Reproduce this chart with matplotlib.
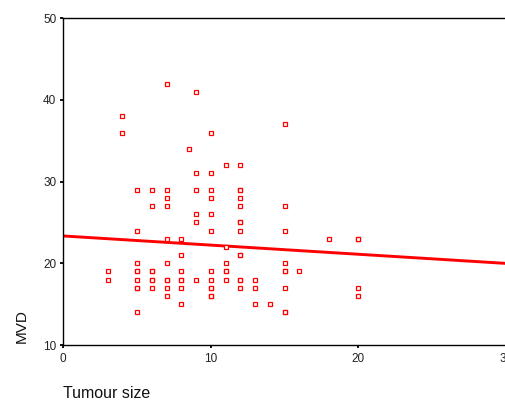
import matplotlib
matplotlib.use("Agg")
import matplotlib.pyplot as plt
import numpy as np

# Data (duplicates where markers appear overplotted)
tumour_size = [
    7, 9, 4, 4, 10, 15, 8.5, 11, 12, 9, 10,
    5, 6, 7, 9, 10, 12, 12,
    7, 10, 12,
    6, 7, 12, 15,
    9, 10,
    9, 12, 12,
    5, 10, 12, 15,
    7, 8, 18, 20, 20,
    11,
    8, 12, 12,
    5, 7, 11, 15,
    3, 5, 5, 6, 6, 8, 10, 11, 11, 15, 15, 16,
    3, 5, 6, 6, 7, 7, 8, 8, 9, 10, 11, 12, 12, 13,
    5, 5, 6, 7, 8, 10, 10, 12, 13, 15, 20,
    7, 10, 10, 20,
    8, 13, 14,
    5, 15, 15,
]
mvd = [
    42, 41, 38, 36, 36, 37, 34, 32, 32, 31, 31,
    29, 29, 29, 29, 29, 29, 29,
    28, 28, 28,
    27, 27, 27, 27,
    26, 26,
    25, 25, 25,
    24, 24, 24, 24,
    23, 23, 23, 23, 23,
    22,
    21, 21, 21,
    20, 20, 20, 20,
    19, 19, 19, 19, 19, 19, 19, 19, 19, 19, 19, 19,
    18, 18, 18, 18, 18, 18, 18, 18, 18, 18, 18, 18, 18, 18,
    17, 17, 17, 17, 17, 17, 17, 17, 17, 17, 17,
    16, 16, 16, 16,
    15, 15, 15,
    14, 14, 14,
]
fit_intercept = 23.35
fit_slope = -0.112

x_ticks = [0, 10, 20, 30]
y_ticks = [10, 20, 30, 40, 50]

W, H = 505, 403
fig = plt.figure(figsize=(W / 100, H / 100), dpi=100)
fig.patch.set_facecolor("white")
ax = fig.add_axes([63.3 / W, 1 - 345 / H, 442.7 / W, 326.7 / H])

ax.plot(tumour_size, mvd, linestyle="none", marker="s", markersize=3.0,
        markerfacecolor="white", markeredgecolor="#ff0000", markeredgewidth=0.9,
        zorder=3)

xs = np.array([x_ticks[0], x_ticks[-1]])
ax.plot(xs, fit_intercept + fit_slope * xs, color="#ff0000", linewidth=2.1,
        solid_capstyle="butt", zorder=2)

ax.set_xlim(x_ticks[0], x_ticks[-1])
ax.set_ylim(y_ticks[0], y_ticks[-1])
ax.set_xticks(x_ticks)
ax.set_yticks(y_ticks)

font = ["Liberation Sans", "DejaVu Sans"]
ax.set_xticklabels([str(t) for t in x_ticks], family=font, fontsize=8.5, color="#222222")
ax.set_yticklabels([str(t) for t in y_ticks], family=font, fontsize=8.5, color="#222222")
ax.tick_params(axis="both", direction="out", length=2, width=1.3, color="black")
ax.tick_params(axis="y", pad=3)
ax.tick_params(axis="x", pad=4)

for s in ["left", "bottom", "top"]:
    ax.spines[s].set_linewidth(1.0)
    ax.spines[s].set_color("black")
ax.spines["right"].set_visible(False)

fig.text(63 / W, 1 - 386 / H, "Tumour size", family=font, fontsize=11.5,
         ha="left", va="top", color="#111111")
fig.text(15 / W, 1 - 343 / H, "MVD", family=font, fontsize=11,
         rotation=90, ha="left", va="bottom", color="#111111")

fig.savefig("out.png", dpi=100, facecolor="white")
